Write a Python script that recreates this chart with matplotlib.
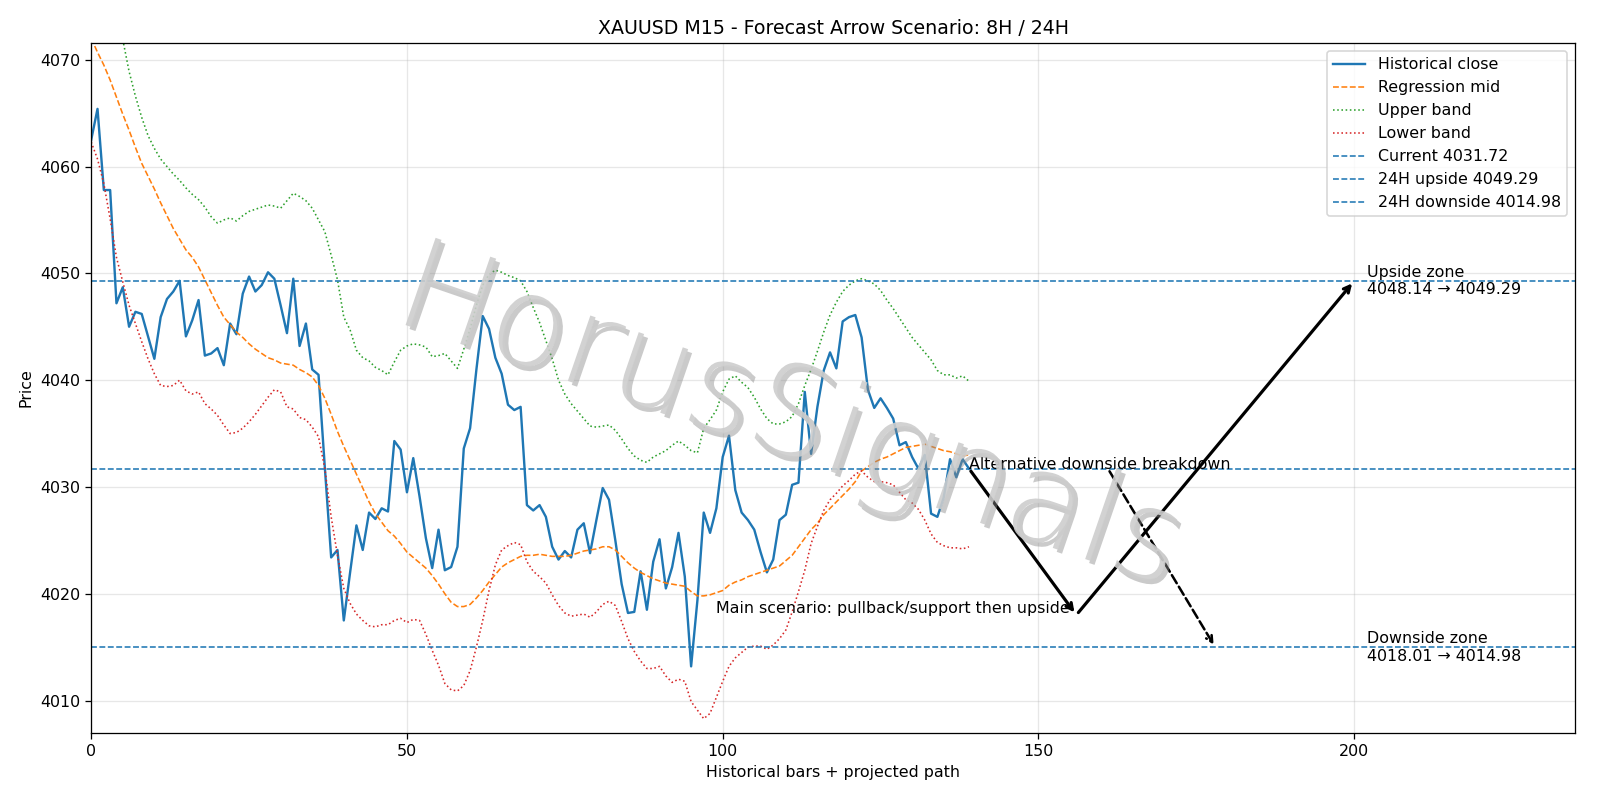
import matplotlib
matplotlib.use("Agg")
import matplotlib.pyplot as plt
import matplotlib.patheffects as pe
from matplotlib import font_manager as fm
import numpy as np

title = "XAUUSD M15 - Forecast Arrow Scenario: 8H / 24H"

close = [4062.5, 4065.4, 4057.8, 4057.8, 4047.2, 4048.7, 4045.0, 4046.4, 4046.2, 4044.1,
         4042.0, 4045.9, 4047.6, 4048.3, 4049.3, 4044.1, 4045.6, 4047.5, 4042.3, 4042.5,
         4043.0, 4041.4, 4045.3, 4044.3, 4048.1, 4049.7, 4048.3, 4048.9, 4050.1, 4049.5,
         4047.0, 4044.4, 4049.5, 4043.2, 4045.3, 4041.0, 4040.5, 4031.8, 4023.4, 4024.1,
         4017.5, 4022.0, 4026.4, 4024.1, 4027.6, 4027.0, 4028.0, 4027.7, 4034.3, 4033.5,
         4029.5, 4032.7, 4029.1, 4025.2, 4022.4, 4026.0, 4022.2, 4022.5, 4024.4, 4033.6,
         4035.5, 4041.0, 4046.0, 4044.8, 4042.1, 4040.6, 4037.7, 4037.2, 4037.5, 4028.3,
         4027.8, 4028.3, 4027.2, 4024.4, 4023.2, 4024.0, 4023.4, 4026.0, 4026.6, 4023.8,
         4026.9, 4029.9, 4028.8, 4025.0, 4020.9, 4018.2, 4018.3, 4022.1, 4018.5, 4023.0,
         4025.1, 4020.5, 4022.5, 4025.7, 4021.6, 4013.2, 4019.4, 4027.6, 4025.7, 4028.0,
         4032.8, 4034.8, 4029.7, 4027.6, 4026.9, 4026.0, 4023.9, 4022.0, 4023.2, 4026.9,
         4027.4, 4030.2, 4030.4, 4038.9, 4033.1, 4037.5, 4040.9, 4042.6, 4041.1, 4045.5,
         4045.9, 4046.1, 4044.0, 4039.1, 4037.4, 4038.3, 4037.4, 4036.4, 4033.9, 4034.2,
         4032.8, 4031.7, 4033.0, 4027.5, 4027.2, 4029.0, 4032.6, 4030.9, 4032.6, 4031.72]

mid = [4072.0, 4070.7, 4069.5, 4068.1, 4066.5, 4064.9, 4063.4, 4061.8, 4060.3, 4059.1,
       4057.9, 4056.6, 4055.4, 4054.2, 4053.2, 4052.2, 4051.5, 4050.6, 4049.4, 4048.2,
       4047.0, 4045.9, 4045.2, 4044.5, 4044.0, 4043.4, 4042.9, 4042.5, 4042.1, 4041.9,
       4041.6, 4041.5, 4041.4, 4041.0, 4040.7, 4040.3, 4039.5, 4038.3, 4036.8, 4035.2,
       4033.8, 4032.5, 4031.2, 4029.9, 4028.6, 4027.5, 4026.7, 4025.9, 4025.4, 4024.7,
       4023.9, 4023.4, 4022.9, 4022.4, 4021.7, 4020.9, 4020.0, 4019.2, 4018.8, 4018.8,
       4019.0, 4019.6, 4020.3, 4021.1, 4021.8, 4022.5, 4022.9, 4023.2, 4023.5, 4023.6,
       4023.6, 4023.7, 4023.6, 4023.5, 4023.5, 4023.5, 4023.6, 4023.8, 4024.0, 4024.1,
       4024.2, 4024.4, 4024.4, 4024.1, 4023.5, 4022.9, 4022.4, 4022.0, 4021.7, 4021.4,
       4021.2, 4021.0, 4020.9, 4020.8, 4020.7, 4020.2, 4019.8, 4019.8, 4019.9, 4020.1,
       4020.3, 4020.8, 4021.1, 4021.3, 4021.6, 4021.8, 4022.0, 4022.2, 4022.4, 4022.6,
       4023.1, 4023.6, 4024.4, 4025.2, 4026.0, 4026.6, 4027.4, 4028.0, 4028.6, 4029.2,
       4029.8, 4030.5, 4031.5, 4031.9, 4032.3, 4032.6, 4032.8, 4033.1, 4033.4, 4033.7,
       4033.8, 4033.9, 4034.0, 4033.8, 4033.6, 4033.4, 4033.3, 4033.1, 4032.9, 4033.0]

upper = [4085.0, 4082.0, 4079.0, 4076.5, 4074.0, 4071.9, 4068.9, 4066.6, 4064.6, 4062.9,
         4061.7, 4060.7, 4060.0, 4059.3, 4058.7, 4058.0, 4057.4, 4056.9, 4056.2, 4055.3,
         4054.7, 4055.0, 4055.2, 4054.9, 4055.4, 4055.8, 4056.0, 4056.2, 4056.4, 4056.3,
         4056.1, 4056.8, 4057.5, 4057.2, 4056.8, 4056.1, 4055.0, 4053.9, 4051.7, 4049.4,
         4045.9, 4044.7, 4042.8, 4042.1, 4041.8, 4041.2, 4040.9, 4040.5, 4041.7, 4042.8,
         4043.2, 4043.4, 4043.3, 4043.1, 4042.2, 4042.3, 4042.5, 4041.8, 4041.1, 4042.9,
         4044.8, 4047.0, 4048.9, 4049.9, 4050.3, 4050.1, 4049.8, 4049.6, 4049.3, 4048.3,
         4046.8, 4045.4, 4043.7, 4042.0, 4040.0, 4038.7, 4037.8, 4037.1, 4036.4, 4035.7,
         4035.6, 4035.7, 4035.8, 4035.3, 4034.5, 4033.6, 4032.9, 4032.5, 4032.3, 4032.8,
         4033.1, 4033.4, 4033.9, 4034.3, 4033.9, 4033.4, 4033.2, 4035.5, 4036.3, 4037.2,
         4038.9, 4040.1, 4040.4, 4039.8, 4039.3, 4038.4, 4037.3, 4036.4, 4035.9, 4035.9,
         4036.1, 4036.6, 4037.8, 4039.5, 4041.0, 4042.7, 4044.5, 4046.1, 4047.3, 4048.3,
         4048.9, 4049.3, 4049.5, 4049.3, 4049.0, 4048.4, 4047.5, 4046.7, 4045.8, 4044.9,
         4044.0, 4043.3, 4042.6, 4041.9, 4040.9, 4040.5, 4040.5, 4040.2, 4040.4, 4039.9]

lower = [4062.3, 4060.7, 4058.4, 4055.1, 4051.5, 4049.2, 4047.0, 4045.3, 4043.6, 4042.0,
         4040.6, 4039.5, 4039.4, 4039.5, 4040.0, 4039.0, 4038.7, 4038.9, 4037.8, 4037.3,
         4036.7, 4035.8, 4035.0, 4035.1, 4035.5, 4036.1, 4036.8, 4037.6, 4038.4, 4039.1,
         4038.9, 4037.5, 4037.3, 4036.5, 4036.3, 4035.6, 4034.7, 4031.7, 4027.2, 4023.6,
         4020.5, 4019.1, 4018.1, 4017.5, 4017.0, 4016.9, 4017.1, 4017.1, 4017.5, 4017.7,
         4017.3, 4017.6, 4017.5, 4016.2, 4014.7, 4013.3, 4011.6, 4011.0, 4010.9, 4011.4,
         4012.8, 4015.0, 4017.5, 4020.3, 4022.7, 4024.1, 4024.5, 4024.8, 4024.6, 4023.0,
         4022.1, 4021.6, 4021.0, 4019.9, 4018.9, 4018.2, 4017.9, 4018.0, 4018.1, 4017.8,
         4018.3, 4019.0, 4019.3, 4018.9, 4017.4, 4015.8, 4014.6, 4013.7, 4013.0, 4013.0,
         4013.2, 4012.3, 4011.7, 4012.0, 4011.8, 4009.9, 4009.1, 4008.3, 4008.8, 4010.3,
         4011.8, 4013.2, 4014.0, 4014.5, 4015.0, 4015.1, 4015.1, 4014.8, 4015.2, 4015.8,
         4016.6, 4018.3, 4020.2, 4022.2, 4024.7, 4026.3, 4027.8, 4028.8, 4029.4, 4030.1,
         4030.6, 4031.2, 4031.5, 4030.9, 4030.5, 4030.5, 4030.4, 4030.2, 4029.5, 4028.8,
         4028.5, 4027.9, 4026.9, 4025.6, 4024.8, 4024.5, 4024.3, 4024.3, 4024.2, 4024.4]

current_price = 4031.72
upside_24h = 4049.29
downside_24h = 4014.98
upside_zone = (4048.14, 4049.29)
downside_zone = (4018.01, 4014.98)

# scenario path (bar index, price)
main_x = [139, 156, 200]
main_y = [4031.72, 4018.01, 4049.29]
alt_x = [161, 178]
alt_y = [4031.72, 4014.98]

watermark = "HorusSignals"


def light_font():
    files = {f.fname.split("/")[-1]: f.fname for f in fm.fontManager.ttflist}
    for cand in ["DejaVuSans-ExtraLight.ttf", "NotoSans-ExtraLight.ttf", "NotoSans-Light.ttf",
                 "Lato-Light.ttf", "Roboto-Light.ttf", "OpenSans-Light.ttf",
                 "Lato-Thin.ttf", "AlegreyaSans-Light.ttf"]:
        if cand in files:
            return fm.FontProperties(fname=files[cand])
    return fm.FontProperties(family="DejaVu Sans")


fig = plt.figure(figsize=(14, 7), dpi=1600 / 14)
ax = fig.add_axes([0.057, 0.084, 0.9275, 0.862])

x = np.arange(len(close))
ax.plot(x, close, color="tab:blue", lw=1.5, label="Historical close")
ax.plot(x, mid, color="tab:orange", lw=1.0, ls="--", label="Regression mid")
ax.plot(x, upper, color="tab:green", lw=1.0, ls=":", label="Upper band")
ax.plot(x, lower, color="tab:red", lw=1.0, ls=":", label="Lower band")
ax.axhline(current_price, color="tab:blue", lw=1.0, ls="--", label=f"Current {current_price:.2f}")
ax.axhline(upside_24h, color="tab:blue", lw=1.0, ls="--", label=f"24H upside {upside_24h:.2f}")
ax.axhline(downside_24h, color="tab:blue", lw=1.0, ls="--", label=f"24H downside {downside_24h:.2f}")

for i in range(len(main_x) - 1):
    ax.annotate("", xy=(main_x[i + 1], main_y[i + 1]), xytext=(main_x[i], main_y[i]),
                arrowprops=dict(arrowstyle="->", color="black", lw=2.0))
ax.annotate("", xy=(alt_x[1], alt_y[1]), xytext=(alt_x[0], alt_y[0]),
            arrowprops=dict(arrowstyle="->", color="black", lw=1.6, ls="--"))

ax.annotate("Main scenario: pullback/support then upside", xy=(155, main_y[1]),
            xytext=(0, 4), textcoords="offset points", ha="right", va="center", fontsize=10)
ax.annotate("Alternative downside breakdown", xy=(main_x[0], current_price),
            xytext=(0, -2), textcoords="offset points", ha="left", va="bottom", fontsize=10)
ax.text(202, upside_24h, f"Upside zone\n{upside_zone[0]:.2f} \u2192 {upside_zone[1]:.2f}",
        ha="left", va="center", fontsize=10)
ax.text(202, downside_24h, f"Downside zone\n{downside_zone[0]:.2f} \u2192 {downside_zone[1]:.2f}",
        ha="left", va="center", fontsize=10)

ax.set_xlim(0, 235)
ax.set_ylim(4006.98, 4071.55)
ax.grid(True, alpha=0.3)
ax.set_title(title, fontsize=12)
ax.set_xlabel("Historical bars + projected path")
ax.set_ylabel("Price")
ax.legend(loc="upper right")

# watermark in a light font, fitted to the reference width
fp = light_font()
fp.set_size(78)
wm = fig.text(0.494, 0.474, watermark, fontproperties=fp, color="#cdcdcd", rotation=0,
              ha="center", va="center", zorder=10)
fig.canvas.draw()
w = wm.get_window_extent().width
target = 820.0
fp.set_size(78 * target / max(w, 1.0))
wm.set_fontproperties(fp)
wm.set_rotation(-19)
wm.set_alpha(0.9)
wm.set_path_effects([pe.SimplePatchShadow(offset=(2.5, -2.5), shadow_rgbFace="#8a8a8a", alpha=0.45),
                     pe.Normal()])

fig.savefig("out.png", dpi=1600 / 14)
